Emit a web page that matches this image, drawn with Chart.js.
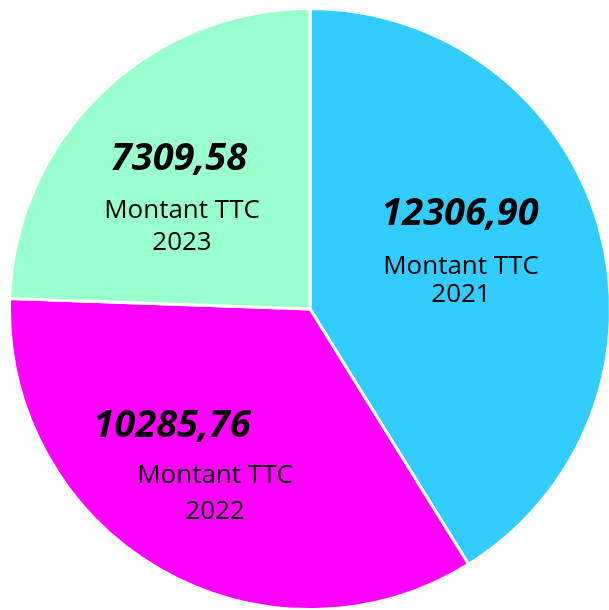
<!DOCTYPE html>
<html>
<head>
<meta charset="utf-8">
<script src="https://cdn.jsdelivr.net/npm/chart.js@4"></script>
<style>
html,body{margin:0;padding:0;overflow:hidden;background:#fff;}
#wrap{width:620px;height:611px;}
</style>
</head>
<body>
<div id="wrap"><canvas id="c" width="620" height="611"></canvas></div>
<script>
const categories = ['2021', '2022', '2023'];
const values = [12306.90, 10285.76, 7309.58];
const colors = ['#33CCFF', '#FF00FF', '#99FFCC'];
const labelPrefix = 'Montant TTC';

const labelPlugin = {
  id: 'sliceLabels',
  afterDatasetsDraw(chart, args, opts) {
    const ctx = chart.ctx;
    const meta = chart.getDatasetMeta(0);
    meta.data.forEach((arc, i) => {
      const cx = arc.x, cy = arc.y;
      const o = opts.offsets[i];
      ctx.save();
      ctx.fillStyle = '#000';
      ctx.textAlign = 'center';
      ctx.textBaseline = 'alphabetic';
      const vf = opts.valueSize;
      ctx.font = 'italic bold ' + vf + 'px "Open Sans"';
      const txt = values[i].toFixed(2).replace('.', ',');
      ctx.fillText(txt, cx + o.v[0], cy + o.v[1] + vf * 0.357);
      const tf = opts.textSize;
      ctx.font = tf + 'px "Open Sans"';
      ctx.fillText(labelPrefix, cx + o.t[0], cy + o.t[1] + tf * 0.357);
      ctx.fillText(categories[i], cx + o.y[0], cy + o.y[1] + tf * 0.357);
      ctx.restore();
    });
  }
};

new Chart(document.getElementById('c'), {
  type: 'pie',
  data: {
    labels: categories,
    datasets: [{
      data: values,
      backgroundColor: colors,
      borderColor: '#ffffff',
      borderWidth: 3
    }]
  },
  options: {
    responsive: false,
    animation: false,
    layout: { padding: { left: 8, right: 8, top: 7, bottom: 0 } },
    plugins: {
      legend: { display: false },
      tooltip: { enabled: false },
      sliceLabels: {
        valueSize: 38,
        textSize: 26,
        offsets: [
          { v: [150, -98], t: [151, -44], y: [151, -16] },
          { v: [-138, 114], t: [-95, 165], y: [-95, 201] },
          { v: [-131, -153], t: [-128, -100], y: [-128, -68] }
        ]
      }
    }
  },
  plugins: [labelPlugin]
});
</script>
</body>
</html>
